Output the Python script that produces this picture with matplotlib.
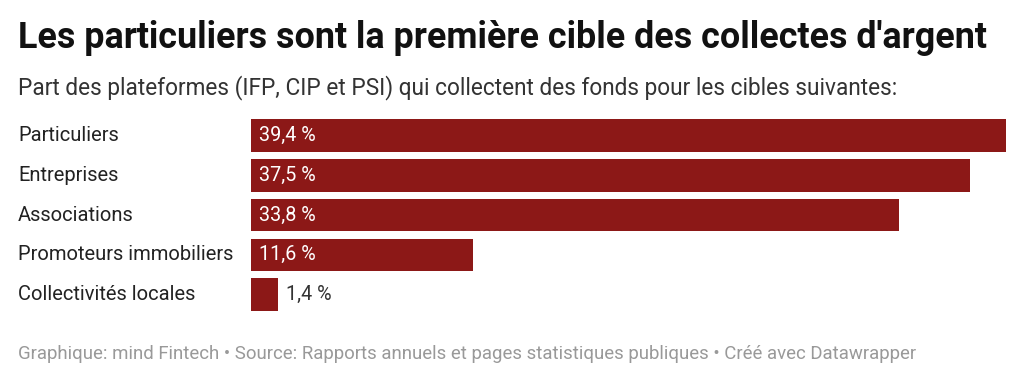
import matplotlib.pyplot as plt
import matplotlib.transforms as mtransforms

categories = ['Particuliers', 'Entreprises', 'Associations',
              'Promoteurs immobiliers', 'Collectivités locales']
values = [39.4, 37.5, 33.8, 11.6, 1.4]
value_labels = ['39,4 %', '37,5 %', '33,8 %', '11,6 %', '1,4 %']

plt.rcParams['font.family'] = ['Roboto', 'DejaVu Sans']

bar_color = '#8c1817'

fig = plt.figure(figsize=(10.24, 3.82), dpi=100)
ax = fig.add_axes([251 / 1024, 0.177, 755 / 1024, 0.520])

pos = list(range(len(categories)))
ax.barh(pos, values, height=0.82, color=bar_color)
ax.set_xlim(0, max(values))
ax.set_ylim(len(categories) - 0.5, -0.5)
ax.axis('off')

# value labels: inside the bar if wide enough, else just after it
for i, (v, lab) in enumerate(zip(values, value_labels)):
    if v > 5:
        ax.text(0.4, i, lab, color='white', fontsize=14.2, va='center', ha='left')
    else:
        ax.text(v + 0.45, i, lab, color='#333333', fontsize=14.2, va='center', ha='left')

# category labels on the left
trans = mtransforms.blended_transform_factory(fig.transFigure, ax.transData)
for i, c in enumerate(categories):
    fig.text(18 / 1024, i, c, fontsize=14.5, color='#222222',
             va='center', ha='left', transform=trans)

fig.text(18 / 1024, 1 - 38 / 382, "Les particuliers sont la première cible des collectes d'argent",
         fontsize=25.8, fontweight='bold', color='#111111', va='center', ha='left')
fig.text(18 / 1024, 1 - 88 / 382,
         "Part des plateformes (IFP, CIP et PSI) qui collectent des fonds pour les cibles suivantes:",
         fontsize=16.3, color='#333333', va='center', ha='left')
fig.text(18 / 1024, 1 - 354 / 382,
         "Graphique: mind Fintech • Source: Rapports annuels et pages statistiques publiques • Créé avec Datawrapper",
         fontsize=13.4, color='#999999', va='center', ha='left')

fig.savefig('out.png', dpi=100, facecolor='white')
